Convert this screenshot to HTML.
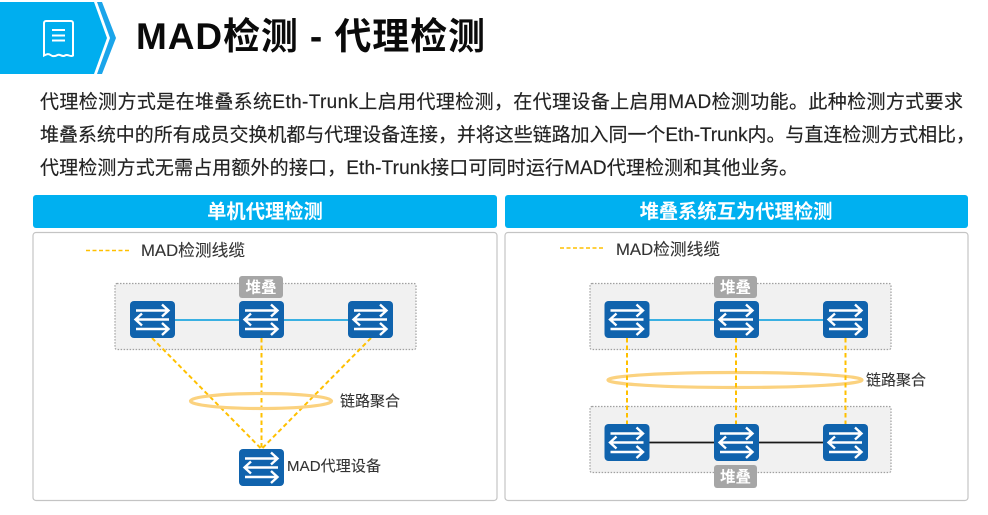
<!DOCTYPE html>
<html lang="zh">
<head>
<meta charset="utf-8">
<style>
html,body{margin:0;padding:0;background:#fff;width:988px;height:515px;overflow:hidden}
svg{display:block;filter:blur(0.35px)}
text{font-family:"Liberation Sans","Noto Sans CJK SC",sans-serif}
.b{font-size:19px;fill:#222;stroke:#222;stroke-width:.15px}
.l{font-size:15px;fill:#333;stroke:#333;stroke-width:.12px}
.m{font-size:16.700px;fill:#333;stroke:#333;stroke-width:.12px}
.h{font-size:19.300px;fill:#fff;font-weight:700;text-anchor:middle}
.s{font-size:15.500px;fill:#fff;font-weight:700;text-anchor:middle}
</style>
</head>
<body>
<svg width="988" height="515" viewBox="0 0 988 515" xmlns="http://www.w3.org/2000/svg">
<defs>
<symbol id="d" viewBox="0 0 45 37" width="45" height="37" overflow="visible">
<rect x="0" y="0" width="45" height="37" rx="4" fill="#1063ad"/>
<g fill="none" stroke="#fff" stroke-width="2.400">
<path d="M6 9.500H38M32 3.500L38.500 9.500L32 15.500"/>
<path d="M6 18.500H39M12 12.500L5.500 18.500L12 24.500"/>
<path d="M6 28H38M32 22L38.500 28L32 34"/>
</g>
</symbol>
</defs>

<!-- header -->
<polygon points="0,2 94,2 107,38 94,74 0,74" fill="#00aeef"/>
<polygon points="97,2 102,2 116,38 102,74 97,74 110,38" fill="#1ba5ea"/>
<path d="M44 23a2 2 0 0 1 2-2H71a2 2 0 0 1 2 2V55.500c-3 2-5 -2-8 0s-5 -2 -7.500 -0.500s-5 1.500-7 0s-3.500 -1-6.500 0.500Z" fill="none" stroke="#fff" stroke-width="2"/>
<path d="M52 30H65M52 35.500H65M52 40.500H65" stroke="#fff" stroke-width="2" fill="none"/>
<text x="136" y="49" font-size="37" font-weight="700" fill="#0a0a0a" textLength="349">MAD检测 - 代理检测</text>

<!-- body -->
<text class="b" x="40" y="108" textLength="923">代理检测方式是在堆叠系统Eth-Trunk上启用代理检测，在代理设备上启用MAD检测功能。此种检测方式要求</text>
<text class="b" x="40" y="141" textLength="935">堆叠系统中的所有成员交换机都与代理设备连接，并将这些链路加入同一个Eth-Trunk内。与直连检测方式相比，</text>
<text class="b" x="40" y="174" textLength="758">代理检测方式无需占用额外的接口，Eth-Trunk接口可同时运行MAD代理检测和其他业务。</text>

<!-- panel headers -->
<rect x="33" y="195" width="464" height="33" rx="3" fill="#00b0f0"/>
<rect x="505" y="195" width="463" height="33" rx="3" fill="#00b0f0"/>
<text class="h" x="265" y="218">单机代理检测</text>
<text class="h" x="736" y="218">堆叠系统互为代理检测</text>

<!-- panel boxes -->
<rect x="33" y="232.500" width="464" height="268" rx="3" fill="#fff" stroke="#c4c4c4" stroke-width="1.200"/>
<rect x="505" y="232.500" width="463" height="268" rx="3" fill="#fff" stroke="#c4c4c4" stroke-width="1.200"/>

<!-- legends -->
<line x1="86" y1="250.500" x2="129" y2="250.500" stroke="#ffc000" stroke-width="1.500" stroke-dasharray="4 2.500"/>
<text class="m" x="141" y="256" textLength="104">MAD检测线缆</text>
<line x1="560" y1="248" x2="603" y2="248" stroke="#ffc000" stroke-width="1.500" stroke-dasharray="4 2.500"/>
<text class="m" x="616" y="255" textLength="104">MAD检测线缆</text>

<!-- left diagram -->
<rect x="115" y="283.500" width="301" height="66" rx="2" fill="#f1f1f1" stroke="#a0a0a0" stroke-width="1.200" stroke-dasharray="1.500 1.500"/>
<line x1="175" y1="320" x2="348" y2="320" stroke="#1fa6e0" stroke-width="1.800"/>
<rect x="239" y="276" width="44" height="22" rx="3" fill="#a6a6a6"/>
<text class="s" x="261" y="292.500">堆叠</text>
<g fill="none" stroke="#ffc000" stroke-width="2" stroke-dasharray="4.500 3">
<line x1="152" y1="338" x2="261.500" y2="449"/>
<line x1="261.500" y1="338" x2="261.500" y2="449"/>
<line x1="371" y1="338" x2="261.500" y2="449"/>
</g>
<ellipse cx="261" cy="401" rx="70.500" ry="7.500" fill="none" stroke="#fbd27f" stroke-width="3.200"/>
<use href="#d" x="130" y="301"/>
<use href="#d" x="239" y="301"/>
<use href="#d" x="348" y="301"/>
<use href="#d" x="239" y="449"/>
<text class="l" x="340" y="406" textLength="60">链路聚合</text>
<text class="l" x="287" y="471" textLength="94">MAD代理设备</text>

<!-- right diagram -->
<rect x="590" y="283.500" width="301" height="66" rx="2" fill="#f1f1f1" stroke="#a0a0a0" stroke-width="1.200" stroke-dasharray="1.500 1.500"/>
<rect x="590" y="406.500" width="301" height="66" rx="2" fill="#f1f1f1" stroke="#a0a0a0" stroke-width="1.200" stroke-dasharray="1.500 1.500"/>
<line x1="649" y1="320" x2="823" y2="320" stroke="#1fa6e0" stroke-width="1.800"/>
<line x1="649" y1="442.500" x2="823" y2="442.500" stroke="#1a1a1a" stroke-width="1.800"/>
<rect x="714" y="276" width="43" height="22" rx="3" fill="#a6a6a6"/>
<text class="s" x="735.500" y="292.500">堆叠</text>
<rect x="714" y="465" width="43" height="23" rx="3" fill="#a6a6a6"/>
<text class="s" x="735.500" y="482">堆叠</text>
<ellipse cx="735" cy="380" rx="127" ry="7.500" fill="none" stroke="#fbd27f" stroke-width="3.200"/>
<g fill="none" stroke="#ffc000" stroke-width="2" stroke-dasharray="4.500 3">
<line x1="627" y1="338" x2="627" y2="424"/>
<line x1="736" y1="338" x2="736" y2="424"/>
<line x1="845.500" y1="338" x2="845.500" y2="424"/>
</g>
<use href="#d" x="604.500" y="301"/>
<use href="#d" x="714" y="301"/>
<use href="#d" x="823" y="301"/>
<use href="#d" x="604.500" y="424"/>
<use href="#d" x="714" y="424"/>
<use href="#d" x="823" y="424"/>
<text class="l" x="866" y="385" textLength="60">链路聚合</text>
</svg>
</body>
</html>
